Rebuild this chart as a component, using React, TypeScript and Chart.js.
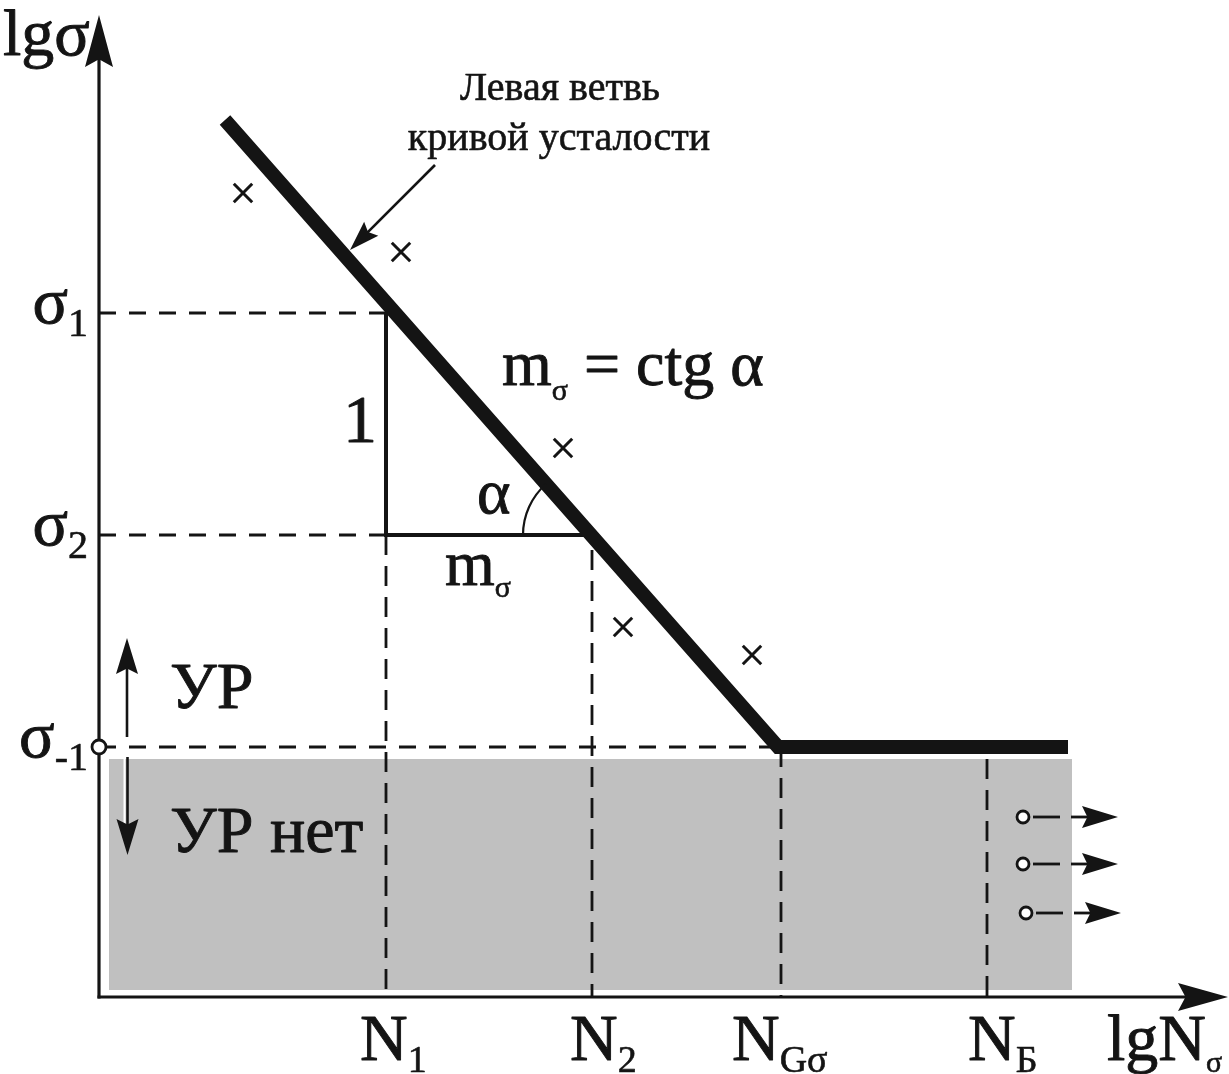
import React, { useEffect, useRef } from 'react';
import { Chart, registerables } from 'chart.js';

Chart.register(...registerables);

const WIDTH = 1229;
const HEIGHT = 1074;

// Visible window in lg units; both axes start at 0
const X_MIN = -0.99;
const X_MAX = 11.3;
const Y_MIN = -0.77;
const Y_MAX = 9.97;
const X_AXIS_END = 11.29;
const Y_AXIS_END = 9.82;

// Characteristic lifetimes on the lgN axis
const nNames = ['N', 'N', 'N', 'N'];
const nSubs = ['1', '2', 'Gσ', 'Б'];
const nValues = [2.87, 4.93, 6.82, 8.88];

// Stress levels on the lgσ axis: σ1, σ2, σ-1
const sigmaSubs = ['1', '2', '-1'];
const sigmaValues = [6.84, 4.62, 2.5];

// Fatigue curve: inclined left branch, then the horizontal at σ-1
const curveX = [1.26, 6.79, 9.69];
const curveY = [8.77, 2.5, 2.5];

// Failed specimens (×)
const failX = [1.44, 3.02, 4.64, 5.24, 6.53];
const failY = [8.04, 7.45, 5.49, 3.7, 3.42];

// Run-out specimens (○→)
const runX = [9.24, 9.24, 9.27];
const runY = [1.8, 1.33, 0.84];

// Zone without fatigue failure (below σ-1)
const safeZoneX = [0.1, 9.73];
const safeZoneTop = 2.38;
const safeZoneBottom = 0.07;

const INK = '#141414';
const FONT = '"Liberation Serif", "Times New Roman", serif';

type Pt = [number, number];

const segment = (pts: Pt[], extra: Record<string, unknown> = {}) => ({
  data: pts.map(([x, y]) => ({ x, y })),
  showLine: true,
  pointRadius: 0,
  fill: false,
  tension: 0,
  borderColor: INK,
  borderWidth: 2.8,
  ...extra,
});

const DASH_H = [17, 13];
const DASH_V = [20, 11];

// Upper ends of the vertical guide lines
const nGuideTop = [sigmaValues[1], 4.47, sigmaValues[2], safeZoneTop];

function buildDatasets() {
  const ds: any[] = [];
  // grey zone
  ds.push({
    data: safeZoneX.map((x) => ({ x, y: safeZoneTop })),
    showLine: true,
    pointRadius: 0,
    borderWidth: 0,
    borderColor: 'rgba(0,0,0,0)',
    backgroundColor: '#c0c0c0',
    fill: { value: safeZoneBottom },
    order: 10,
  });
  // horizontal guides σ1, σ2 (to N1) and σ-1 (to the knee)
  sigmaValues.forEach((s, i) => {
    const xEnd = i < 2 ? nValues[0] : curveX[1];
    ds.push(segment([[0, s], [xEnd, s]], { borderDash: DASH_H, order: 6 }));
  });
  // vertical guides
  nValues.forEach((n, i) => {
    ds.push(segment([[n, nGuideTop[i]], [n, 0]], { borderDash: DASH_V, order: 6 }));
  });
  // slope triangle
  ds.push(
    segment(
      [
        [nValues[0], sigmaValues[0]],
        [nValues[0], sigmaValues[1]],
        [nValues[1], sigmaValues[1]],
      ],
      { borderWidth: 4, borderJoinStyle: 'miter', order: 4 }
    )
  );
  // fatigue curve
  ds.push({
    data: curveX.map((x, i) => ({ x, y: curveY[i] })),
    showLine: true,
    pointRadius: 0,
    fill: false,
    tension: 0,
    borderColor: INK,
    borderWidth: 14,
    borderJoinStyle: 'miter',
    borderCapStyle: 'butt',
    order: 3,
  });
  // failures
  ds.push({
    data: failX.map((x, i) => ({ x, y: failY[i] })),
    showLine: false,
    pointStyle: 'crossRot',
    pointRadius: 13,
    pointBorderWidth: 3,
    pointBorderColor: INK,
    order: 2,
  });
  // run-outs
  ds.push({
    data: runX.map((x, i) => ({ x, y: runY[i] })),
    showLine: false,
    pointStyle: 'circle',
    pointRadius: 6,
    pointBorderWidth: 2.8,
    pointBorderColor: INK,
    pointBackgroundColor: '#ffffff',
    order: 1,
  });
  // endurance limit mark on the stress axis
  ds.push({
    data: [{ x: 0, y: sigmaValues[2] }],
    showLine: false,
    pointStyle: 'circle',
    pointRadius: 7,
    pointBorderWidth: 2.8,
    pointBorderColor: INK,
    pointBackgroundColor: '#ffffff',
    order: 0,
  });
  return ds;
}

function arrow(
  ctx: CanvasRenderingContext2D,
  x1: number,
  y1: number,
  x2: number,
  y2: number,
  len: number,
  half: number,
  lw: number
) {
  const dx = x2 - x1;
  const dy = y2 - y1;
  const d = Math.hypot(dx, dy);
  const ux = dx / d;
  const uy = dy / d;
  const bx = x2 - ux * len;
  const by = y2 - uy * len;
  ctx.save();
  ctx.strokeStyle = INK;
  ctx.fillStyle = INK;
  ctx.lineWidth = lw;
  ctx.lineCap = 'butt';
  ctx.beginPath();
  ctx.moveTo(x1, y1);
  ctx.lineTo(x2 - ux * len * 0.7, y2 - uy * len * 0.7);
  ctx.stroke();
  ctx.beginPath();
  ctx.moveTo(x2, y2);
  ctx.lineTo(bx - uy * half, by + ux * half);
  ctx.lineTo(x2 - ux * len * 0.85, y2 - uy * len * 0.85);
  ctx.lineTo(bx + uy * half, by - ux * half);
  ctx.closePath();
  ctx.fill();
  ctx.restore();
}

type Part = [string, number, number?];

function rich(
  ctx: CanvasRenderingContext2D,
  parts: Part[],
  x: number,
  y: number,
  align: 'left' | 'center' | 'right' = 'left'
) {
  let total = 0;
  const widths = parts.map(([t, size]) => {
    ctx.font = `${size}px ${FONT}`;
    const w = ctx.measureText(t).width;
    total += w;
    return w;
  });
  let cx = align === 'left' ? x : align === 'center' ? x - total / 2 : x - total;
  ctx.save();
  ctx.textAlign = 'left';
  ctx.textBaseline = 'alphabetic';
  ctx.fillStyle = INK;
  ctx.strokeStyle = INK;
  ctx.lineJoin = 'round';
  parts.forEach(([t, size, dy], i) => {
    ctx.font = `${size}px ${FONT}`;
    ctx.lineWidth = size > 45 ? 0.9 : 0.6;
    ctx.fillText(t, cx, y + (dy || 0));
    ctx.strokeText(t, cx, y + (dy || 0));
    cx += widths[i];
  });
  ctx.restore();
}

// left edges of the lgN tick labels
const nLabelLeft = [2.61, 4.71, 6.33, 8.69];

const schemePlugin = {
  id: 'fatigueScheme',
  beforeDatasetsDraw(chart: any) {
    const { ctx, scales } = chart;
    const px = (v: number) => scales.x.getPixelForValue(v);
    const py = (v: number) => scales.y.getPixelForValue(v);
    // coordinate axes
    arrow(ctx, px(0), py(0) + 1.5, px(0), py(Y_AXIS_END), 52, 14, 3.2);
    arrow(ctx, px(0) - 1.5, py(0), px(X_AXIS_END), py(0), 50, 14, 3.2);
  },
  afterDatasetsDraw(chart: any) {
    const { ctx, scales } = chart;
    const px = (v: number) => scales.x.getPixelForValue(v);
    const py = (v: number) => scales.y.getPixelForValue(v);

    // angle α between the curve and the horizontal leg
    const cx = px(nValues[1]) - 1;
    const cy = py(sigmaValues[1]);
    let a = Math.atan2(py(curveY[0]) - py(curveY[1]), px(curveX[0]) - px(curveX[1]));
    if (a < 0) a += Math.PI * 2;
    ctx.save();
    ctx.strokeStyle = INK;
    ctx.lineWidth = 2.2;
    ctx.beginPath();
    ctx.arc(cx, cy, px(0.68) - px(0), Math.PI, a);
    ctx.stroke();
    ctx.restore();

    // УР / УР нет arrows
    arrow(ctx, px(0.28), py(2.6), px(0.28), py(3.59), 36, 11, 2.6);
    ctx.save();
    ctx.strokeStyle = '#ffffff';
    ctx.lineWidth = 2;
    ctx.beginPath();
    ctx.moveTo(px(0.28) - 2.5, py(2.4));
    ctx.lineTo(px(0.28) - 2.5, py(1.6));
    ctx.stroke();
    ctx.restore();
    arrow(ctx, px(0.28) + 0.5, py(2.4), px(0.28) + 0.5, py(1.42), 36, 11, 2.6);

    // pointer to the left branch
    arrow(ctx, px(3.36), py(8.32), px(2.51), py(7.47), 30, 10, 2.6);

    // run-out arrows
    runX.forEach((x, i) => {
      const y = py(runY[i]);
      ctx.save();
      ctx.strokeStyle = INK;
      ctx.lineWidth = 2.8;
      ctx.beginPath();
      ctx.moveTo(px(x + 0.1), y);
      ctx.lineTo(px(x + 0.37), y);
      ctx.stroke();
      ctx.restore();
      arrow(ctx, px(x + 0.48), y, px(x + 0.95), y, 36, 11, 2.8);
    });

    // axis titles
    rich(ctx, [['lgσ', 66]], px(-0.96), py(9.42));
    rich(ctx, [['lgN', 66], ['σ', 30, 12]], px(10.08), py(-0.63));

    // stress level labels
    sigmaValues.forEach((s, i) => {
      rich(ctx, [['σ', 66], [sigmaSubs[i], 40, 13]], px(-0.11), py(s - 0.1), 'right');
    });

    // lifetime labels
    nValues.forEach((_, i) => {
      rich(ctx, [[nNames[i], 66], [nSubs[i], 38, 12]], px(nLabelLeft[i]), py(-0.63));
    });

    // slope triangle annotation
    rich(ctx, [['1', 68]], px(2.44), py(5.55));
    rich(ctx, [['α', 64]], px(3.78), py(4.84));
    rich(ctx, [['m', 64], ['σ', 30, 12]], px(3.46), py(4.12));
    rich(ctx, [['m', 64], ['σ', 30, 15], [' = ctg α', 64]], px(4.03), py(6.12));

    // zones
    rich(ctx, [['УР', 66]], px(0.71), py(2.89));
    rich(ctx, [['УР нет', 66]], px(0.71), py(1.45));

    // branch caption
    rich(ctx, [['Левая ветвь', 40]], px(4.61), py(8.97), 'center');
    rich(ctx, [['кривой усталости', 40]], px(4.6), py(8.47), 'center');
  },
};

export default function App() {
  const ref = useRef<HTMLCanvasElement>(null);

  useEffect(() => {
    if (!ref.current) return;
    const chart = new Chart(ref.current, {
      type: 'line',
      data: { datasets: buildDatasets() },
      options: {
        animation: false,
        responsive: false,
        events: [],
        layout: { padding: 0, autoPadding: false },
        plugins: {
          legend: { display: false },
          tooltip: { enabled: false },
        },
        scales: {
          x: { type: 'linear', display: false, min: X_MIN, max: X_MAX },
          y: { type: 'linear', display: false, min: Y_MIN, max: Y_MAX },
        },
      },
      plugins: [schemePlugin],
    } as any);
    return () => chart.destroy();
  }, []);

  return (
    <div
      style={{
        position: 'absolute',
        left: 0,
        top: 0,
        width: WIDTH,
        height: HEIGHT,
        background: '#ffffff',
      }}
    >
      <canvas
        ref={ref}
        width={WIDTH}
        height={HEIGHT}
        style={{ display: 'block', width: WIDTH, height: HEIGHT }}
      />
    </div>
  );
}
